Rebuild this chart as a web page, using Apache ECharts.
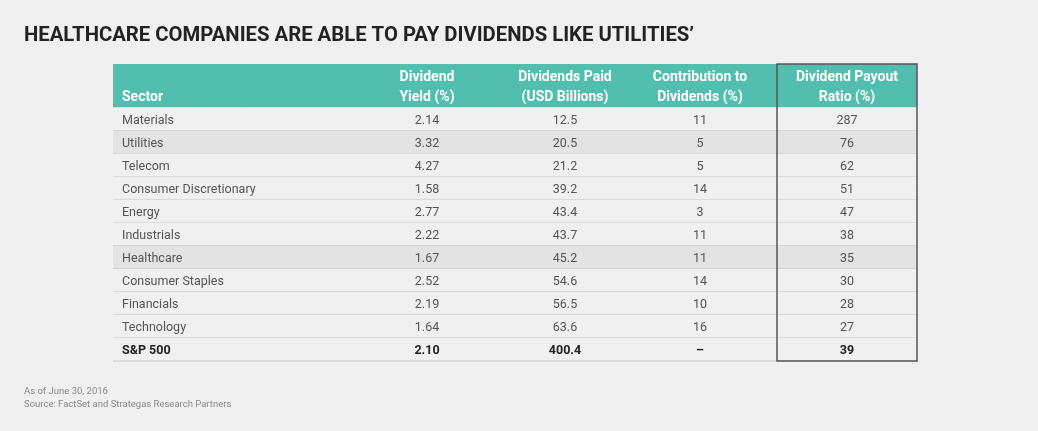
<!DOCTYPE html>
<html>
<head>
<meta charset="utf-8">
<script src="https://cdn.jsdelivr.net/npm/echarts@6/dist/echarts.min.js"></script>
<style>
  html, body { margin: 0; background: #f0f0f0; }
  #main { width: 1038px; height: 431px; }
</style>
</head>
<body>
<div id="main"></div>
<script>
// table data
var sectors = ['Materials', 'Utilities', 'Telecom', 'Consumer Discretionary', 'Energy',
  'Industrials', 'Healthcare', 'Consumer Staples', 'Financials', 'Technology', 'S&P 500'];
var divYield = [2.14, 3.32, 4.27, 1.58, 2.77, 2.22, 1.67, 2.52, 2.19, 1.64, 2.10];
var divPaid = [12.5, 20.5, 21.2, 39.2, 43.4, 43.7, 45.2, 54.6, 56.5, 63.6, 400.4];
var contribution = [11, 5, 5, 14, 3, 11, 11, 14, 10, 16, null];
var payoutRatio = [287, 76, 62, 51, 47, 38, 35, 30, 28, 27, 39];
var headers = ['Sector', 'Dividend\nYield (%)', 'Dividends Paid\n(USD Billions)',
  'Contribution to\nDividends (%)', 'Dividend Payout\nRatio (%)'];
var shaded = ['Utilities', 'Healthcare'];
var totalRow = 'S&P 500';

// layout (table units, 804 wide)
var tableW = 804;
var colX = [9, 314, 452, 587, 734];
var boxLeft = 664;
var headTop = -1.9;
var font = 'Roboto, "Noto Sans", sans-serif';

function cellTexts(i) {
  return [
    sectors[i],
    divYield[i].toFixed(2),
    divPaid[i].toFixed(1),
    contribution[i] == null ? '–' : String(contribution[i]),
    String(payoutRatio[i])
  ];
}

var chart = echarts.init(document.getElementById('main'));

var option = {
  backgroundColor: '#f0f0f0',
  animation: false,
  title: [{
    text: 'HEALTHCARE COMPANIES ARE ABLE TO PAY DIVIDENDS LIKE UTILITIES’',
    left: 19,
    top: 21,
    textStyle: { fontFamily: font, fontSize: 20.3, fontWeight: 'bold', color: '#222' }
  }, {
    text: 'As of June 30, 2016\nSource: FactSet and Strategas Research Partners',
    left: 19,
    top: 380,
    textStyle: { fontFamily: font, fontSize: 9.5, fontWeight: 'normal', color: '#888', lineHeight: 13 }
  }],
  grid: { left: 113, right: 121, top: 64, bottom: 70 },
  xAxis: { type: 'value', min: 0, max: tableW, show: false },
  yAxis: { type: 'value', inverse: true, min: headTop, max: sectors.length, show: false },
  series: [{
    // header row
    type: 'custom',
    data: [[0]],
    renderItem: function (params, api) {
      var p0 = api.coord([0, headTop]);
      var p1 = api.coord([tableW, 0]);
      var kids = [{
        type: 'rect',
        shape: { x: p0[0], y: p0[1], width: p1[0] - p0[0], height: p1[1] - p0[1] },
        style: { fill: '#52bfae' }
      }, {
        type: 'line',
        shape: { x1: p0[0], y1: p1[1], x2: p1[0], y2: p1[1] },
        style: { stroke: '#d6eee9', lineWidth: 1 }
      }];
      headers.forEach(function (h, c) {
        var x = api.coord([colX[c], 0])[0];
        kids.push({
          type: 'text',
          style: {
            x: x, y: p1[1],
            text: h,
            fill: '#fff',
            fontFamily: font, fontSize: 14, fontWeight: 'bold',
            lineHeight: 20,
            align: c === 0 ? 'left' : 'center',
            verticalAlign: 'bottom'
          }
        });
      });
      return { type: 'group', children: kids };
    }
  }, {
    // body rows
    type: 'custom',
    data: sectors.map(function (s, i) { return [i]; }),
    renderItem: function (params, api) {
      var i = api.value(0);
      var p0 = api.coord([0, i]);
      var p1 = api.coord([tableW, i + 1]);
      var bold = sectors[i] === totalRow;
      var kids = [{
        type: 'rect',
        shape: { x: p0[0], y: p0[1], width: p1[0] - p0[0], height: p1[1] - p0[1] },
        style: { fill: shaded.indexOf(sectors[i]) >= 0 ? '#e3e3e3' : '#f0f0f0' }
      }, {
        type: 'line',
        shape: { x1: p0[0], y1: p1[1], x2: p1[0], y2: p1[1] },
        style: { stroke: '#c6c6c6', lineWidth: 1 }
      }];
      var yc = (p0[1] + p1[1]) / 2 + 1.5;
      cellTexts(i).forEach(function (t, c) {
        kids.push({
          type: 'text',
          style: {
            x: api.coord([colX[c], 0])[0], y: yc,
            text: t,
            fill: bold ? '#222' : '#555',
            fontFamily: font, fontSize: 12.5, fontWeight: bold ? 'bold' : 'normal',
            align: c === 0 ? 'left' : 'center',
            verticalAlign: 'middle'
          }
        });
      });
      return { type: 'group', children: kids };
    }
  }, {
    // outline round payout ratio column
    type: 'custom',
    data: [[0]],
    z: 5,
    renderItem: function (params, api) {
      var p0 = api.coord([boxLeft, headTop]);
      var p1 = api.coord([tableW, sectors.length]);
      return {
        type: 'rect',
        shape: { x: p0[0], y: p0[1], width: p1[0] - p0[0], height: p1[1] - p0[1] },
        style: { fill: 'none', stroke: '#555', lineWidth: 1.5 }
      };
    }
  }]
};

chart.setOption(option);
</script>
</body>
</html>
